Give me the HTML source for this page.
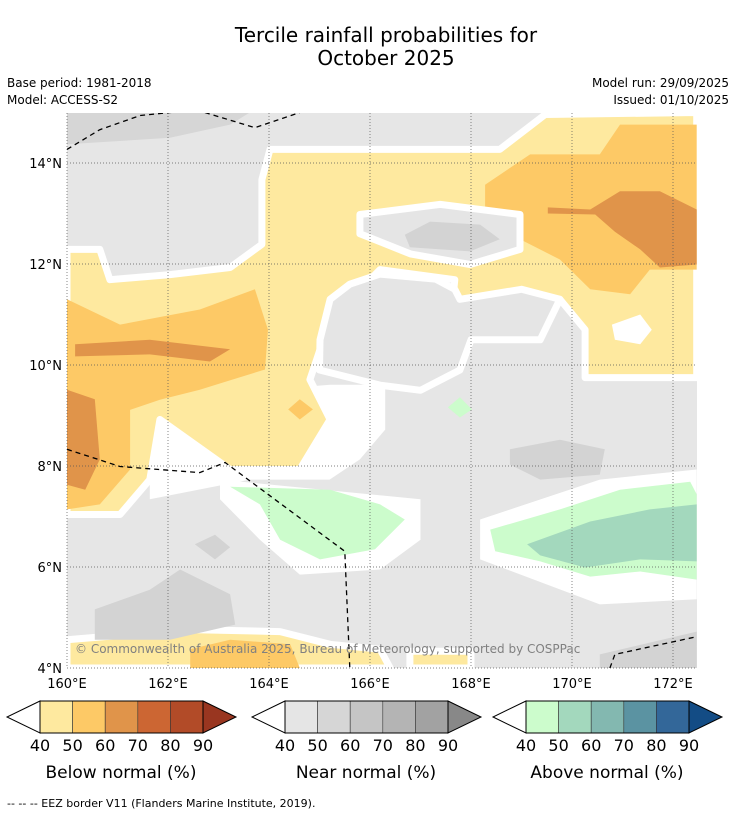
<!DOCTYPE html>
<html><head><meta charset="utf-8"><style>
body{margin:0;background:#fff;font-family:"Liberation Sans","DejaVu Sans",sans-serif}
</style></head><body>
<svg id="s" width="736" height="816" xmlns="http://www.w3.org/2000/svg" font-family="DejaVu Sans, Liberation Sans, sans-serif">
<text x="386" y="42" font-size="20" text-anchor="middle">Tercile rainfall probabilities for</text>
<text x="386" y="65" font-size="20" text-anchor="middle">October 2025</text>
<text x="7" y="87" font-size="12">Base period: 1981-2018</text>
<text x="7" y="104" font-size="12">Model: ACCESS-S2</text>
<text x="729" y="87" font-size="12" text-anchor="end">Model run: 29/09/2025</text>
<text x="729" y="104" font-size="12" text-anchor="end">Issued: 01/10/2025</text>
<defs><clipPath id="mc"><rect x="67" y="113" width="630" height="555"/></clipPath></defs>
<g id="map" clip-path="url(#mc)"></g>
<g id="grid"></g>
<g id="eez" clip-path="url(#mc)"></g>
<text x="75" y="653" font-size="12" fill="#808080">© Commonwealth of Australia 2025, Bureau of Meteorology, supported by COSPPac</text>
<g id="axes"></g>
<g id="bars"></g>
<text x="7" y="807" font-size="11">--  --  -- EEZ border V11 (Flanders Marine Institute, 2019).</text>
</svg>
<script>
const NS="http://www.w3.org/2000/svg";
const lonTicks=[160,162,164,166,168,170,172];
const latTicks=[14,12,10,8,6,4];
const barTicks=[40,50,60,70,80,90];
const belowColors=["#fee99f","#fdc966","#e0944a","#cc6633","#b24b28","#993620"];
const nearColors=["#e5e5e5","#d6d6d6","#c5c5c5","#b4b4b4","#a2a2a2","#888888"];
const aboveColors=["#ccfccc","#a3d8bd","#83b8b0","#5b93a2","#336799","#134c85"];
const barTitles=["Below normal (%)","Near normal (%)","Above normal (%)"];
const barLeft=[7,252,493];
function X(lon){return 67+(lon-160)*50.5;}
function Y(lat){return 668-(lat-4)*50.5;}
function el(t,a,p){const e=document.createElementNS(NS,t);for(const k in a)e.setAttribute(k,a[k]);p.appendChild(e);return e;}
const regions=[
["near-40-top-dark","#d6d6d6",0,[[160,15],[163.62,15],[163.23,14.76],[162.04,14.5],[160,14.37]]],
["no-signal-center","#fff",0,[[161.64,9.32],[165.21,9.61],[166.3,9.61],[166.3,8.72],[165.8,8.13],[165.2,7.73],[163.62,7.73],[161.64,7.34]]],
["no-signal-green-left","#fff",0,[[163.03,7.73],[167,7.34],[167,6.54],[166.2,5.95],[164.61,5.85],[163.82,6.54],[163.03,7.34]]],
["no-signal-green-right","#fff",0,[[168.18,6.94],[170.55,7.73],[172.47,7.93],[172.47,5.36],[170.55,5.26],[168.18,6.15]]],
["below-40-main","#fee99f",1,[[164.02,14.27],[168.57,14.27],[169.47,14.96],[172.47,15],[172.47,9.75],[170.26,9.75],[170.26,10.7],[169.76,11.3],[167.58,10.7],[167.68,11.69],[166.2,11.89],[165.21,10.9],[164.81,9.71],[165.21,8.92],[164.61,7.93],[163.23,7.93],[161.84,8.92],[161.64,7.73],[161.05,7.04],[160,7.04],[160,12.29],[160.65,12.29],[160.85,11.69],[162.04,11.79],[163.23,11.93],[163.86,12.39],[163.86,13.67]]],
["below-40-bottom","#fee99f",1,[[160,4.56],[162.44,4.76],[164.22,4.72],[165.21,4.47],[166.2,4.37],[166.4,4],[160,4]]],
["below-40-bottom-2","#fee99f",1,[[166.79,4.33],[168,4.33],[168,4],[166.79,4]]],
["below-50-left","#fdc966",0,[[160,11.3],[161.05,10.8],[162.63,11.1],[163.72,11.5],[163.98,10.7],[163.92,9.91],[162.63,9.51],[161.84,9.31],[161.25,9.11],[161.25,8.52],[161.25,7.93],[160.65,7.24],[160,7.14]]],
["below-50-upper-right","#fdc966",0,[[168.28,13.57],[169.17,14.17],[170.55,14.17],[170.95,14.76],[172.47,14.76],[172.47,11.89],[171.54,11.89],[171.15,11.4],[170.36,11.5],[169.76,12.09],[168.97,12.49],[168.28,13.08]]],
["below-50-blob","#fdc966",0,[[164.38,9.12],[164.61,9.32],[164.87,9.12],[164.61,8.92]]],
["below-50-bottom","#fdc966",0,[[162.44,4.37],[163.23,4.56],[164.42,4.47],[164.61,4],[162.44,4]]],
["below-60-left-band","#e0944a",0,[[160.16,10.41],[161.64,10.5],[163.23,10.31],[162.83,10.07],[161.64,10.21],[160.16,10.17]]],
["below-60-left-edge","#e0944a",0,[[160,9.51],[160.55,9.32],[160.65,8.13],[160.36,7.53],[160,7.63]]],
["below-60-upper-right","#e0944a",0,[[169.52,13.12],[170.36,13.08],[170.95,13.44],[171.74,13.44],[172.47,13.08],[172.47,11.99],[171.74,11.93],[171.35,12.29],[170.85,12.64],[170.46,12.98],[169.52,13.0]]],
["near-40-center-top","#e5e5e5",1,[[165.8,12.98],[167.39,13.18],[168.97,12.98],[168.97,12.29],[167.98,11.99],[166.8,12.2],[165.8,12.6]]],
["near-40-center","#e5e5e5",1,[[165.21,11.3],[165.6,11.6],[166.2,11.8],[167.3,11.7],[167.68,11.5],[167.78,11.3],[169.0,11.5],[169.76,11.3],[169.37,10.5],[168.0,10.5],[167.78,9.9],[167.0,9.5],[166.2,9.6],[165.0,9.9],[165.01,10.5]]],
["near-50-a","#d3d3d3",0,[[166.69,12.58],[167.19,12.84],[168.18,12.78],[168.57,12.49],[167.98,12.25],[166.79,12.33]]],
["near-50-b","#d3d3d3",0,[[168.77,8.33],[169.76,8.52],[170.65,8.33],[170.55,7.83],[169.37,7.73],[168.77,8.03]]],
["near-50-c","#d3d3d3",0,[[160.55,5.16],[161.64,5.55],[162.24,5.95],[163.23,5.46],[163.33,4.86],[162.04,4.56],[160.55,4.56]]],
["near-50-e","#d3d3d3",0,[[170.55,4.27],[172.47,4.72],[172.47,4],[170.55,4]]],
["near-50-f","#d3d3d3",0,[[162.53,6.45],[162.93,6.64],[163.23,6.39],[162.93,6.15]]],
["above-40-left","#ccfccc",0,[[163.23,7.59],[165.21,7.53],[166.2,7.24],[166.69,6.94],[166.1,6.35],[165.01,6.15],[164.22,6.54],[163.82,7.24]]],
["above-40-small","#ccfccc",0,[[167.54,9.16],[167.78,9.36],[168.02,9.12],[167.78,8.96]]],
["above-40-right","#ccfccc",0,[[168.38,6.74],[169.76,7.14],[170.95,7.53],[172.34,7.69],[172.47,7.44],[172.47,5.75],[171.35,5.91],[170.36,5.81],[169.37,6.11],[168.48,6.31]]],
["above-50-right","#a3d8bd",0,[[169.11,6.45],[170.36,6.9],[171.54,7.14],[172.47,7.24],[172.47,6.11],[171.35,6.15],[170.26,5.99],[169.37,6.23]]],
["no-signal-hole","#fff",0,[[170.79,10.8],[171.35,11],[171.58,10.7],[171.35,10.41],[170.85,10.5]]]
];
const eezLines=[
[[160,14.27],[160.65,14.66],[161.45,14.94],[162.24,15.02]],
[[162.73,15],[163.72,14.7],[164.61,15]],
[[160,8.33],[161.05,7.99],[162.63,7.87],[163.13,8.07],[165.5,6.31],[165.6,4]],
[[170.75,4],[170.85,4.27],[172.47,4.62]]
];
const map=document.getElementById('map');
const base=el('rect',{x:67,y:113,width:630,height:555,fill:'#e6e6e6'},map);


regions.forEach(r=>{
 const p=el('polygon',{points:r[3].map(q=>X(q[0]).toFixed(1)+','+Y(q[1]).toFixed(1)).join(' '),fill:r[1],stroke:r[2]?'#fff':'none','stroke-width':r[2]?7:0,'stroke-linejoin':'round'},map);
 
 
});
const eez=document.getElementById('eez');
eezLines.forEach((l,i)=>{
 const p=el('polyline',{points:l.map(q=>X(q[0]).toFixed(1)+','+Y(q[1]).toFixed(1)).join(' '),fill:'none',stroke:'#000','stroke-width':1.3,'stroke-dasharray':'5,4'},eez);
 
 
});
const grid=document.getElementById('grid');
lonTicks.forEach(v=>{
 const l=el('line',{x1:X(v),x2:X(v),y1:113,y2:668,stroke:'#555','stroke-width':0.7,'stroke-dasharray':'1,2'},grid);
 
 
});
latTicks.forEach(v=>{
 const l=el('line',{x1:67,x2:697,y1:Y(v),y2:Y(v),stroke:'#555','stroke-width':0.7,'stroke-dasharray':'1,2'},grid);
 
 
});
const axes=document.getElementById('axes');
lonTicks.forEach(v=>{
 const t=el('text',{x:X(v),y:688,'font-size':13,'text-anchor':'middle'},axes);t.textContent=v+'°E';
 
 
});
latTicks.forEach(v=>{
 const t=el('text',{x:62,y:Y(v)+5,'font-size':13,'text-anchor':'end'},axes);t.textContent=v+'°N';
 
 
});
const bars=document.getElementById('bars');
[belowColors,nearColors,aboveColors].forEach((cols,b)=>{
 const x0=barLeft[b],bx=x0+33,bw=163/(barTicks.length-1),top=701,bot=733,mid=717;
 const tl=el('polygon',{points:`${bx},${top} ${x0},${mid} ${bx},${bot}`,fill:'#fff',stroke:'#000','stroke-width':1},bars);
 
 
 for(let i=0;i<barTicks.length-1;i++){
  const r=el('rect',{x:bx+i*bw,y:top,width:bw,height:bot-top,fill:cols[i],stroke:'#333','stroke-width':0.6},bars);
  
  
 }
 const ex=bx+163;
 const tr=el('polygon',{points:`${ex},${top} ${ex+33},${mid} ${ex},${bot}`,fill:cols[5],stroke:'#000','stroke-width':1},bars);
 
 
 el('rect',{x:bx,y:top,width:163,height:bot-top,fill:'none',stroke:'#000','stroke-width':1},bars);
 barTicks.forEach((v,i)=>{
  const t=el('text',{x:bx+i*bw,y:751,'font-size':16,'text-anchor':'middle'},bars);t.textContent=v;
  
  
 });
 const tt=el('text',{x:bx+81,y:778,'font-size':17,'text-anchor':'middle'},bars);tt.textContent=barTitles[b];
 
 
});
</script>
</body></html>
